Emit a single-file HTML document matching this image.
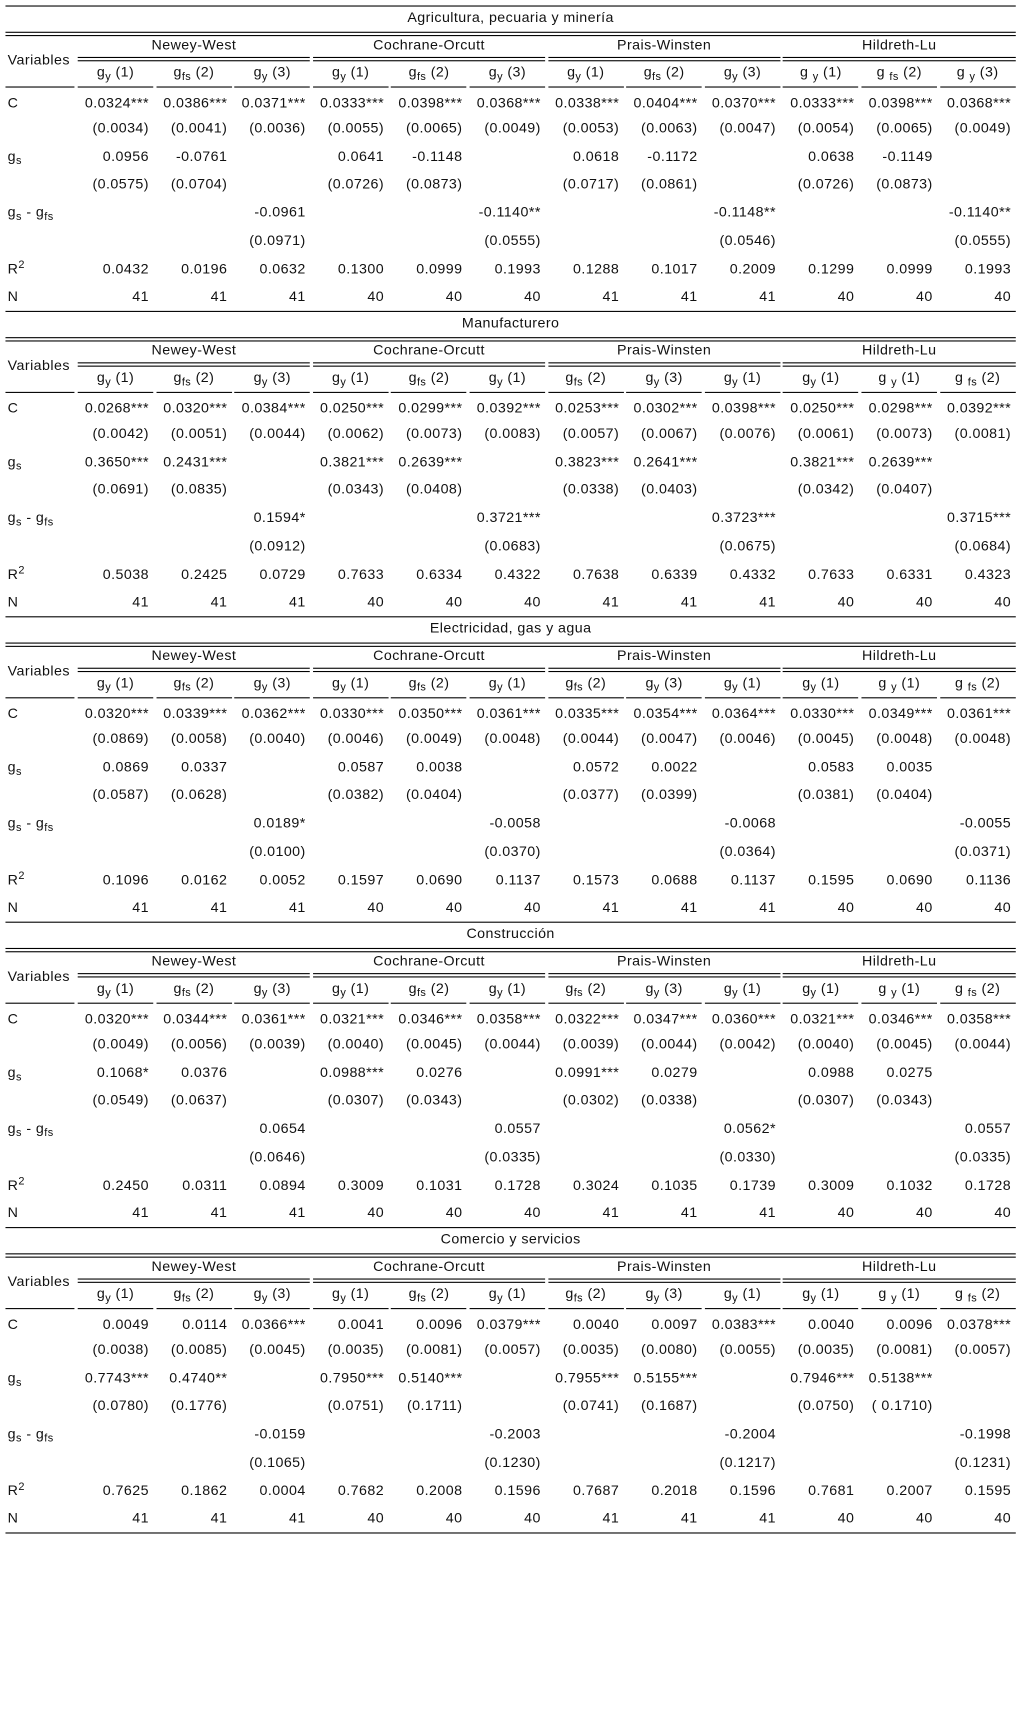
<!DOCTYPE html>
<html><head><meta charset="utf-8"><style>
body{margin:0;background:#fff;width:1018px;height:1713px;position:relative;overflow:hidden;font-family:"Liberation Sans",sans-serif;font-size:13px;color:#111}
#wrap{position:absolute;left:0;top:0;width:930px;height:1565px;transform:scale(1.0946);transform-origin:0 0}
.t{position:absolute;white-space:nowrap;line-height:16px;letter-spacing:0.4px}
.l{position:absolute;height:1px;background:#000}
sub{font-size:10px;vertical-align:-3px;line-height:0}
sup{font-size:10px;vertical-align:5px;line-height:0}
</style></head><body>
<div id="wrap"></div>
<script>
const titles=["Agricultura, pecuaria y minería","Manufacturero","Electricidad, gas y agua","Construcción","Comercio y servicios"];
const methods=["Newey-West","Cochrane-Orcutt","Prais-Winsten","Hildreth-Lu"];
const subA=[["y","1"],["fs","2"],["y","3"],["y","1"],["fs","2"],["y","3"],["y","1"],["fs","2"],["y","3"],["y","1"],["fs","2"],["y","3"]];
const subB=[["y","1"],["fs","2"],["y","3"],["y","1"],["fs","2"],["y","1"],["fs","2"],["y","3"],["y","1"],["y","1"],["y","1"],["fs","2"]];
const rowLabels=["C","","g<sub>s</sub>","","g<sub>s</sub> - g<sub>fs</sub>","","R<sup>2</sup>","N"];
const N=["41","41","41","40","40","40","41","41","41","40","40","40"];
function D(a,b,c,d){return ["","",a,"","",b,"","",c,"","",d];}
const s1=[["0.0324***","0.0386***","0.0371***","0.0333***","0.0398***","0.0368***","0.0338***","0.0404***","0.0370***","0.0333***","0.0398***","0.0368***"],
["(0.0034)","(0.0041)","(0.0036)","(0.0055)","(0.0065)","(0.0049)","(0.0053)","(0.0063)","(0.0047)","(0.0054)","(0.0065)","(0.0049)"],
["0.0956","-0.0761","","0.0641","-0.1148","","0.0618","-0.1172","","0.0638","-0.1149",""],
["(0.0575)","(0.0704)","","(0.0726)","(0.0873)","","(0.0717)","(0.0861)","","(0.0726)","(0.0873)",""],
D("-0.0961","-0.1140**","-0.1148**","-0.1140**"),D("(0.0971)","(0.0555)","(0.0546)","(0.0555)"),
["0.0432","0.0196","0.0632","0.1300","0.0999","0.1993","0.1288","0.1017","0.2009","0.1299","0.0999","0.1993"],N];
const s2=[["0.0268***","0.0320***","0.0384***","0.0250***","0.0299***","0.0392***","0.0253***","0.0302***","0.0398***","0.0250***","0.0298***","0.0392***"],
["(0.0042)","(0.0051)","(0.0044)","(0.0062)","(0.0073)","(0.0083)","(0.0057)","(0.0067)","(0.0076)","(0.0061)","(0.0073)","(0.0081)"],
["0.3650***","0.2431***","","0.3821***","0.2639***","","0.3823***","0.2641***","","0.3821***","0.2639***",""],
["(0.0691)","(0.0835)","","(0.0343)","(0.0408)","","(0.0338)","(0.0403)","","(0.0342)","(0.0407)",""],
D("0.1594*","0.3721***","0.3723***","0.3715***"),D("(0.0912)","(0.0683)","(0.0675)","(0.0684)"),
["0.5038","0.2425","0.0729","0.7633","0.6334","0.4322","0.7638","0.6339","0.4332","0.7633","0.6331","0.4323"],N];
const s3=[["0.0320***","0.0339***","0.0362***","0.0330***","0.0350***","0.0361***","0.0335***","0.0354***","0.0364***","0.0330***","0.0349***","0.0361***"],
["(0.0869)","(0.0058)","(0.0040)","(0.0046)","(0.0049)","(0.0048)","(0.0044)","(0.0047)","(0.0046)","(0.0045)","(0.0048)","(0.0048)"],
["0.0869","0.0337","","0.0587","0.0038","","0.0572","0.0022","","0.0583","0.0035",""],
["(0.0587)","(0.0628)","","(0.0382)","(0.0404)","","(0.0377)","(0.0399)","","(0.0381)","(0.0404)",""],
D("0.0189*","-0.0058","-0.0068","-0.0055"),D("(0.0100)","(0.0370)","(0.0364)","(0.0371)"),
["0.1096","0.0162","0.0052","0.1597","0.0690","0.1137","0.1573","0.0688","0.1137","0.1595","0.0690","0.1136"],N];
const s4=[["0.0320***","0.0344***","0.0361***","0.0321***","0.0346***","0.0358***","0.0322***","0.0347***","0.0360***","0.0321***","0.0346***","0.0358***"],
["(0.0049)","(0.0056)","(0.0039)","(0.0040)","(0.0045)","(0.0044)","(0.0039)","(0.0044)","(0.0042)","(0.0040)","(0.0045)","(0.0044)"],
["0.1068*","0.0376","","0.0988***","0.0276","","0.0991***","0.0279","","0.0988","0.0275",""],
["(0.0549)","(0.0637)","","(0.0307)","(0.0343)","","(0.0302)","(0.0338)","","(0.0307)","(0.0343)",""],
D("0.0654","0.0557","0.0562*","0.0557"),D("(0.0646)","(0.0335)","(0.0330)","(0.0335)"),
["0.2450","0.0311","0.0894","0.3009","0.1031","0.1728","0.3024","0.1035","0.1739","0.3009","0.1032","0.1728"],N];
const s5=[["0.0049","0.0114","0.0366***","0.0041","0.0096","0.0379***","0.0040","0.0097","0.0383***","0.0040","0.0096","0.0378***"],
["(0.0038)","(0.0085)","(0.0045)","(0.0035)","(0.0081)","(0.0057)","(0.0035)","(0.0080)","(0.0055)","(0.0035)","(0.0081)","(0.0057)"],
["0.7743***","0.4740**","","0.7950***","0.5140***","","0.7955***","0.5155***","","0.7946***","0.5138***",""],
["(0.0780)","(0.1776)","","(0.0751)","(0.1711)","","(0.0741)","(0.1687)","","(0.0750)","( 0.1710)",""],
D("-0.0159","-0.2003","-0.2004","-0.1998"),D("(0.1065)","(0.1230)","(0.1217)","(0.1231)"),
["0.7625","0.1862","0.0004","0.7682","0.2008","0.1596","0.7687","0.2018","0.1596","0.7681","0.2007","0.1595"],N];
const sections=[s1,s2,s3,s4,s5];
const rowY=[89,112,138,163,189,215,241,266];
const SECH=279, TOP=5, X0=71, CW=71.6, L=5, R=928;
const wrap=document.getElementById('wrap');
function line(x1,x2,y,nm){const d=document.createElement('div');d.className='l';
d.style.left=x1+'px';d.style.width=(x2-x1)+'px';d.style.top=y+'px';


wrap.appendChild(d);}
function text(html,x,y,w,align,nm){const d=document.createElement('div');d.className='t';
d.innerHTML=html;d.style.left=x+'px';d.style.top=(y-8)+'px';d.style.width=w+'px';d.style.textAlign=align;


wrap.appendChild(d);}
function cx(i){return X0+i*CW;}
sections.forEach((sec,s)=>{
  const T=TOP+s*SECH;
  line(L,R,T,'section-top-rule');
  text(titles[s],L,T+11,R-L,'center','section-title');
  line(L,R,T+24,'header-rule');line(L,R,T+27,'header-rule');
  text('Variables',L+2,T+50,64,'left','variables-header');
  methods.forEach((m,g)=>{
    const x1=cx(3*g), x2=cx(3*g+2)+CW-2.5;
    text(m,x1,T+36,x2-x1,'center','method-header');
    line(x1,x2,T+47,'method-rule');line(x1,x2,T+50,'method-rule');
  });
  const subs=s===0?subA:subB;
  subs.forEach((sb,i)=>{
    const x1=cx(i),x2=cx(i)+CW-2.5;
    const sp=(s===0&&i>=9)||(s>0&&(i===10||i===11))?'g&nbsp;':'g';
    text(sp+'<sub>'+sb[0]+'</sub> ('+sb[1]+')',x1,T+61,x2-x1,'center','column-header');
    line(x1,x2,T+74,'column-rule');
  });
  line(L,68,T+74,'variables-rule');
  sec.forEach((row,r)=>{
    if(rowLabels[r])text(rowLabels[r],L+2,T+rowY[r],60,'left','row-label');
    row.forEach((v,i)=>{ if(v) text(v,cx(i)-4,T+rowY[r],CW-2.5,'right','cell-value'); });
  });
});
line(L,R,TOP+5*SECH,'table-bottom-rule');
</script>
</body></html>
